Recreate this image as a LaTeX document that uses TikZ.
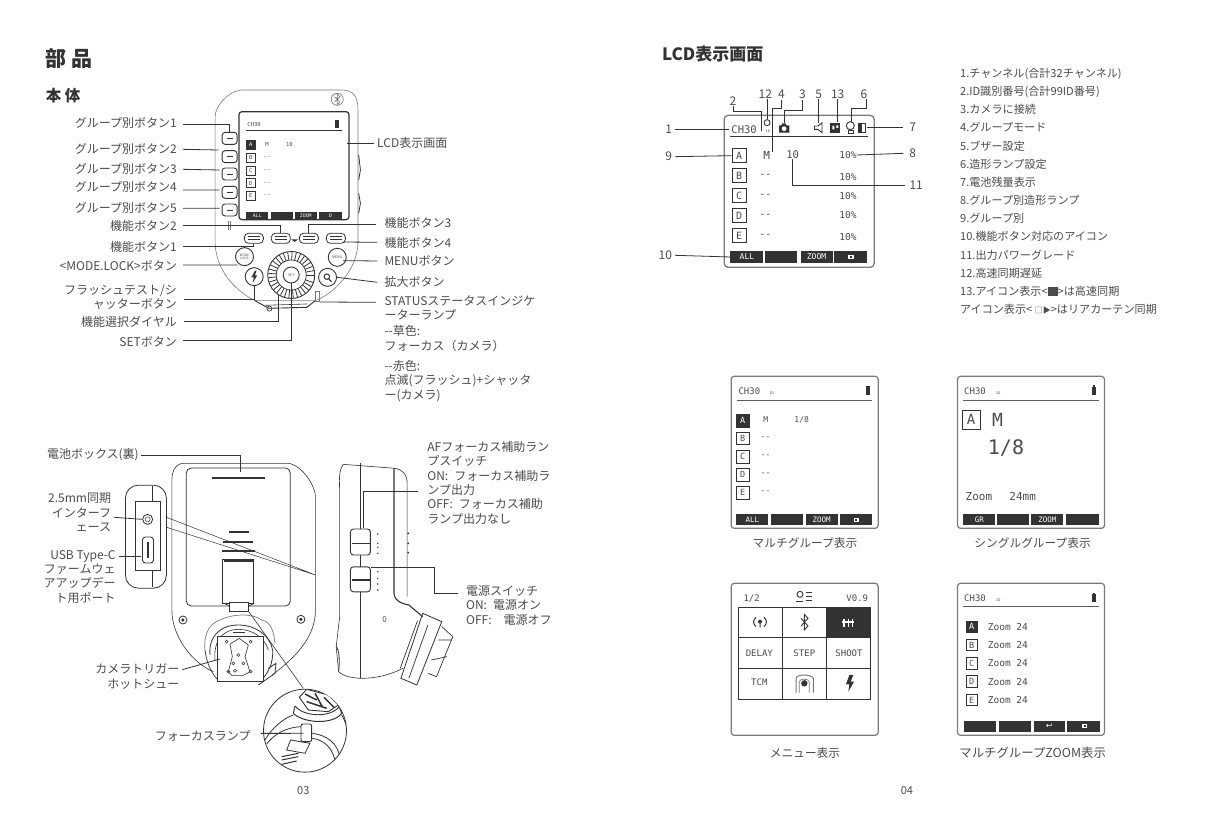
\documentclass[tikz,border=0pt]{standalone}
\usepackage{fontspec}
\setmainfont{Noto Sans CJK JP}
\setmonofont{DejaVu Sans Mono}
\newfontfamily\symf{DejaVu Sans}
\usetikzlibrary{calc}
\definecolor{txt}{HTML}{4C4C4C}
\definecolor{ink}{HTML}{333333}
\definecolor{pale}{HTML}{7A7A7A}
\newcommand\fsz[1]{\fontsize{#1}{#1}\selectfont}
\tikzset{
  lab/.style={font=\fontsize{12}{14.3}\selectfont,text=txt,inner sep=0pt},
  ldr/.style={draw=ink,line width=.8pt},
  thin line/.style={draw=pale,line width=.6pt},
  part/.style={draw=ink,line width=.8pt},
  scr/.style={draw=ink,line width=1.2pt,rounded corners=3pt,inner sep=0pt,fill=white},
  skey/.style={fill=ink,text=white,inner sep=0pt,font=\ttfamily\fsz{6.5}},
  gbox/.style={draw=ink,line width=.8pt,inner sep=0pt,text=txt,font=\ttfamily\fsz{7},minimum size=11.5pt},
  gon/.style={fill=ink,text=white},
  mono/.style={font=\ttfamily\fsz{7},text=txt,inner sep=0pt},
  lnum/.style={font=\fsz{12},text=txt,inner sep=0pt},
  capt/.style={font=\fsz{11.7},text=txt,inner sep=0pt},
  gbtn/.style={draw=ink,line width=.9pt,rounded corners=3pt,inner sep=0pt,minimum width=15pt,minimum height=12pt},
  fbtn/.style={draw=ink,line width=.8pt,rounded corners=4pt,inner sep=0pt,minimum width=19pt,minimum height=10pt},
  rbtn/.style={circle,draw=ink,line width=.9pt,inner sep=0pt,minimum size=18pt,text=txt},
}
\begin{document}
\begin{tikzpicture}[x=1pt,y=-1pt]
\useasboundingbox (0,0) rectangle (1209,831);
\fill[white] (0,0) rectangle (1209,831);
% ================= top-left panel
\begin{scope}[shift={(30,30)},x=.346pt,y=-.3333pt]
\node[font=\bfseries\fsz{21},text=ink,inner sep=0pt,anchor=west] (t1) at (45,85) {部 品};
\node[font=\bfseries\fsz{15.5},text=ink,inner sep=0pt,anchor=west] (t2) at (45,197) {本 体};
% body
\draw[thin line] (610,180) -- (900,180) .. controls (935,180) and (948,200) .. (948,240) -- (948,640) .. controls (945,720) and (880,790) .. (825,812) -- (650,812) .. controls (590,780) and (538,720) .. (535,640) -- (535,260) .. controls (535,230) and (570,185) .. (610,180) -- cycle;
\draw[part] (950,375) -- (955,420) -- (950,450) (950,490) -- (955,520) -- (950,550);
\node[circle,draw=pale,line width=.7pt,minimum size=12pt,inner sep=0pt] (bt) at (888,208) {};
\draw[pale,line width=.6pt] (880,200) -- (896,216) -- (888,224) -- (888,192) -- (896,200) -- (880,216);
% screen
\node[scr,minimum width=110pt,minimum height=108pt] (lcd) at (763,407) {};
\draw[ink,line width=1pt] (625,303) -- (903,303);
\node[mono,font=\ttfamily\fsz{5.5},anchor=west] (mch) at (628,285) {CH30};
\node[fill=ink,inner sep=0pt,minimum width=4.5pt,minimum height=8pt] (mbat) at (888,283) {};
\foreach \i/\t/\y in {a/A/345,b/B/383,c/C/422,d/D/460,e/E/498}{
  \node[gbox,font=\ttfamily\fsz{5.5},minimum size=9pt] (m\i) at (638,\y) {\t};}
\node[gbox,gon,font=\ttfamily\fsz{5.5},minimum size=9pt] at (638,345) {A};
\node[mono,font=\ttfamily\fsz{5.5}] (mm) at (685,343) {M};
\node[mono,font=\ttfamily\fsz{5.5}] (mn10) at (750,343) {10};
\foreach \y in {383,422,460,498}{\node[mono,font=\ttfamily\fsz{5.5}] at (685,\y) {--};}
\foreach \n/\c/\w/\t in {s1/657/22/ALL,s2/727/22/,s3/797/22/ZOOM,s4/869/23/D}{
  \node[skey,font=\ttfamily\fsz{4.8},minimum width=\w pt,minimum height=7.5pt] (m\n) at (\c,556) {\t};}
% group buttons
\foreach \i/\y in {1/325,2/380,3/432,4/487,5/540}{
  \node[gbtn] (b\i) at (577,\y) {};
  \draw[ink,line width=.9pt] ($(b\i)+(-3pt,0)$) -- ($(b\i)+(3pt,0)$);}
\draw[pale,line width=.7pt] (572,572) -- (572,600) (580,572) -- (580,600);
% function buttons
\foreach \i/\x in {1/647,2/725,3/806,4/884}{
  \node[fbtn] (fb\i) at (\x,625) {};
  \draw[ink,line width=.7pt] ($(fb\i)+(-6pt,-1.5pt)$) -- ($(fb\i)+(6pt,-1.5pt)$) ($(fb\i)+(-6pt,1.5pt)$) -- ($(fb\i)+(6pt,1.5pt)$);}
\fill[ink] (755,628) -- (775,628) -- (765,636) -- cycle;
% round buttons
\node[rbtn,font=\fontsize{3.2}{3.6}\selectfont,align=center] (mlb) at (620,680) {MODE\\LOCK};
\node[rbtn,font=\fsz{3.6}] (mb) at (888,682) {MENU};
\node[rbtn] (flb) at (648,740) {};
\fill[ink] (650,722) -- (640,742) -- (647,742) -- (644,758) -- (657,736) -- (650,736) -- (655,722) -- cycle;
\node[rbtn] (kb) at (860,742) {};
\node[circle,draw=ink,line width=1pt,minimum size=5.5pt,inner sep=0pt] (kc) at (858,740) {};
\draw[ink,line width=1.2pt] (864,747) -- (871,755);
% dial
\node[circle,draw=ink,line width=.9pt,minimum size=47pt,inner sep=0pt] (dial) at (755,735) {};
\node[circle,draw=ink,line width=.7pt,minimum size=30pt,inner sep=0pt] (dial2) at (755,735) {};
\foreach \a in {0,11,...,350}{\draw[ink,line width=.8pt] ($(dial)+(\a:15pt)$) -- ($(dial)+(\a:23pt)$);}
\node[circle,draw=ink,line width=.9pt,minimum size=16pt,inner sep=0pt,font=\fsz{3.5},text=txt] (set) at (755,735) {SET};
% bottom strip
\draw[ink,line width=.9pt] (650,812) -- (690,835) -- (800,832) -- (825,812);
\draw[ink,line width=.6pt] (680,826) -- (800,822);
\node[circle,draw=ink,line width=.7pt,minimum size=5pt,inner sep=0pt] (sb) at (692,836) {};
\node[draw=pale,line width=.7pt,minimum width=4.5pt,minimum height=10pt,inner sep=0pt] (lamp) at (831,800) {};
% left labels
\node[lab,anchor=east] (g1) at (425,278) {グループ別ボタン1};
\node[lab,anchor=east] (g2) at (425,358) {グループ別ボタン2};
\node[lab,anchor=east] (g3) at (425,418) {グループ別ボタン3};
\node[lab,anchor=east] (g4) at (425,472) {グループ別ボタン4};
\node[lab,anchor=east] (g5) at (425,533) {グループ別ボタン5};
\node[lab,anchor=east] (f2) at (425,587) {機能ボタン2};
\node[lab,anchor=east] (f1) at (425,650) {機能ボタン1};
\node[lab,anchor=east] (ml) at (425,708) {<MODE.LOCK>ボタン};
\node[lab,anchor=east,align=right] (fl) at (425,802) {フラッシュテスト/シ\\ャッターボタン};
\node[lab,anchor=east] (dl) at (425,875) {機能選択ダイヤル};
\node[lab,anchor=east] (se) at (425,937) {SETボタン};
\coordinate (g2e) at (545,360);
\coordinate (g3e) at (548,420);
\coordinate (g4e) at (548,480);
\coordinate (g5e) at (548,535);
\coordinate (mle) at (600,705);
\coordinate (dle) at (717,795);
\draw[ldr] ([xshift=6pt,yshift=-2pt]g1.east) -| (b1.north);
\draw[ldr] ([xshift=6pt]g2.east) -- (g2e);
\draw[ldr] ([xshift=6pt]g3.east) -- (g3e);
\draw[ldr] ([xshift=6pt,yshift=-2.6pt]g4.east) -- (g4e);
\draw[ldr] ([xshift=6pt,yshift=-.6pt]g5.east) -- (g5e);
\draw[ldr] ([xshift=6pt]f2.east) -| (fb2.north);
\draw[ldr] ([xshift=6pt]f1.east) -| (fb1.south);
\draw[ldr] ([xshift=6pt,yshift=1pt]ml.east) -- (mle);
\draw[ldr] ([xshift=7pt,yshift=-2pt]fl.east) -| (flb.south);
\draw[ldr] ([xshift=7pt]dl.east) -| (dle);
\draw[ldr] ([xshift=6pt,yshift=2.3pt]se.east) -| (set.south);
% right labels
\node[lab,anchor=west] (rl) at (1003,340) {LCD表示画面};
\node[lab,anchor=west] (f3) at (1024,580) {機能ボタン3};
\node[lab,anchor=west] (f4) at (1024,640) {機能ボタン4};
\node[lab,anchor=west] (mn) at (1024,693) {MENUボタン};
\node[lab,anchor=west] (kd) at (1024,757) {拡大ボタン};
\node[lab,anchor=north west,align=left] (st) at (1024,796) {STATUSステータスインジケ\\ーターランプ\\[2pt]-{}-草色:\\フォーカス（カメラ）\\[6pt]-{}-赤色:\\点滅(フラッシュ)+シャッタ\\ー(カメラ)};
\coordinate (lcdp) at (915,340);
\coordinate (f4e) at (905,636);
\coordinate (mne) at (905,692);
\coordinate (stL) at (1000,817);
\draw[ldr] ([xshift=-3pt]rl.west) -- (lcdp);
\draw[ldr] ([xshift=-8pt,yshift=-1.5pt]f3.west) -| (fb3.north);
\draw[ldr] ([xshift=-7pt,yshift=1pt]f4.west) -- (f4e);
\draw[ldr] ([xshift=-7pt]mn.west) -- (mne);
\draw[ldr] ([xshift=-7pt]kd.west) -- (kb.east);
\draw[ldr] (stL) -- (lamp.south east);
\end{scope}
% ================= bottom-left panel
\begin{scope}[shift={(30,430)},x=.346pt,y=-.3333pt]
% back body
\draw[thin line,draw=ink] (440,100) -- (750,100) .. controls (790,110) and (825,170) .. (825,200) -- (825,540) .. controls (825,620) and (770,680) .. (700,735);
\draw[thin line,draw=ink] (440,100) .. controls (415,105) and (410,130) .. (410,150) -- (410,540) .. controls (410,620) and (470,700) .. (530,725);
\node[draw=ink,line width=.8pt,rounded corners=5pt,minimum width=104pt,minimum height=138pt,inner sep=0pt] (door) at (602,321) {};
\draw[ink,line width=2pt] (525,143) -- (680,143);
\draw[ink,line width=2pt] (575,306) -- (632,306) (558,335) -- (645,335) (555,362) -- (650,362);
\node[draw=ink,line width=.8pt,minimum width=31pt,minimum height=44pt,inner sep=0pt,fill=white] (clip) at (602,455) {};
\draw[ink,line width=2pt] (560,392) -- (645,392);
\node[draw=ink,line width=.8pt,minimum width=19pt,minimum height=9pt,inner sep=0pt,fill=white] (tab) at (605,532) {};
\draw[ink,line width=.7pt] (560,520) -- (578,528) (648,520) -- (632,528);
\coordinate (dg) at (825,435);
\draw[ink,line width=.5pt] (395,262) -- (dg) (395,292) -- (dg);
% port panel
\node[draw=ink,line width=.8pt,rounded corners=13pt,minimum width=41pt,minimum height=103pt,inner sep=0pt,fill=white] (panel) at (335,320) {};
\node[draw=ink,line width=.9pt,minimum width=25pt,minimum height=69pt,inner sep=0pt] (port) at (342,318) {};
\draw[ink,line width=1pt] (355,168) -- (355,215) (355,422) -- (355,472);
\node[circle,draw=ink,line width=.8pt,minimum size=10pt,inner sep=0pt] (jack) at (340,268) {};
\node[circle,draw=ink,line width=.5pt,minimum size=5pt,inner sep=0pt] at (340,268) {};
\node[draw=ink,line width=.9pt,rounded corners=3pt,minimum width=11pt,minimum height=26pt,inner sep=0pt] (usb) at (341,360) {};
\draw[ink,line width=1.4pt] (341,335) -- (341,385);
\node[lab,anchor=east,align=right] (sy) at (235,247) {2.5mm同期\\インターフ\\ェース};
\node[lab,anchor=east,align=right] (us) at (248,440) {USB Type-C\\ファームウェ\\アアップデー\\ト用ポート};
\coordinate (usbe) at (322,378);
\draw[ldr] ([xshift=3pt,yshift=-5pt]sy.east) -- (jack.west);
\draw[ldr] ([xshift=3pt]us.east |- usbe) -- (usbe);
% battery label
\node[lab,anchor=east] (bb) at (315,75) {電池ボックス(裏)};
\coordinate (bbe) at (608,125);
\draw[ldr] ([xshift=2pt]bb.east) -| (bbe);
% screws
\foreach \n/\x/\y in {sc1/442/570,sc2/783/568}{
  \node[circle,draw=ink,line width=.8pt,minimum size=8pt,inner sep=0pt] (\n) at (\x,\y) {};
  \fill[ink] (\n) circle[radius=1.8pt];}
\node[lab,anchor=east,align=right] (hs) at (432,740) {カメラトリガー\\ホットシュー};
\node[lab,anchor=east] (fo) at (638,918) {フォーカスランプ};
\node[font=\fsz{11},text=txt,inner sep=0pt] (p3) at (790,1083) {03};
% side view
\draw[thin line,draw=ink] (905,103) -- (1055,115) .. controls (1080,120) and (1090,135) .. (1090,160) -- (1090,500);
\draw[thin line,draw=ink] (905,103) .. controls (895,120) and (893,135) .. (895,180) -- (895,560) -- (885,650) -- (892,725) .. controls (905,740) and (940,745) .. (958,745) .. controls (1000,745) and (1040,735) .. (1078,715);
\draw[ink,line width=1.1pt] (1052,115) -- (1052,490) .. controls (1052,510) and (1070,520) .. (1095,525) -- (1135,560);
\draw[ink,line width=1.5pt] (955,100) -- (955,297) (955,375) -- (955,410) (955,485) -- (955,745);
\draw[ink,line width=.8pt] (1135,550) -- (1190,575) -- (1118,765) -- (1072,745) -- cycle;
\draw[ink,line width=.7pt] (1120,572) -- (1070,715) (1150,585) -- (1095,745);
\draw[ink,line width=.7pt] (1190,590) -- (1222,620) -- (1175,740) -- (1150,730) (1160,690) -- (1205,680) (1180,630) -- (1220,630);
\draw[ink,line width=.8pt] (885,650) .. controls (895,660) and (895,700) .. (892,725);
\foreach \y in {310,340,368}{\fill[ink] (1093,\y) circle[radius=1pt];}
\node[font=\fsz{8},text=txt,inner sep=0pt] (h0) at (1025,570) {0};
\node[draw=ink,line width=.9pt,rounded corners=3pt,minimum width=20pt,minimum height=26pt,inner sep=0pt] (sw1) at (955,336) {};
\node[draw=ink,line width=.9pt,rounded corners=3pt,minimum width=20pt,minimum height=25pt,inner sep=0pt] (sw2) at (955,448) {};
\draw[ink,line width=1.6pt] (930,340) -- (985,340) (930,450) -- (985,450);
\foreach \y in {312,340,352,370,425,445,462,480}{\fill[ink] (1005,\y) circle[radius=.8pt];}
\node[lab,anchor=north west,align=left] (af) at (1148,34) {AFフォーカス補助ラン\\プスイッチ\\ON:\enspace フォーカス補助ラ\\ンプ出力\\OFF:\enspace フォーカス補助\\ランプ出力なし};
\node[lab,anchor=north west,align=left] (pw) at (1260,466) {電源スイッチ\\ON:\enspace 電源オン\\OFF:\enspace\enspace 電源オフ};
\coordinate (afL) at (1122,185);
\coordinate (afT) at (965,295);
\coordinate (pwL) at (1237,490);
\coordinate (pwT) at (985,413);
\draw[ldr] (afL) -| (afT);
\draw[ldr] (pwL) -- (1170,490) |- (pwT);
\end{scope}
% ================= hot shoe and lamp call-out
\begin{scope}[shift={(200,600)},x=.3333pt,y=-.3333pt]
\draw[pale,line width=.7pt] (15,150) .. controls (10,100) and (30,70) .. (60,60) .. controls (100,40) and (160,40) .. (185,60) .. controls (215,65) and (222,100) .. (225,130);
\draw[ink,line width=.8pt] (30,165) .. controls (25,110) and (60,75) .. (115,75) .. controls (165,75) and (210,105) .. (218,150) .. controls (220,190) and (205,220) .. (180,245);
\draw[ink,line width=.6pt] (45,180) .. controls (40,120) and (70,88) .. (115,88) .. controls (160,88) and (195,115) .. (205,150);
\draw[ink,line width=.7pt] (15,150) .. controls (20,190) and (35,225) .. (60,245);
\draw[ink,line width=.8pt] (175,255) -- (225,220) -- (228,190) -- (205,205);
\draw[ink,line width=1.6pt] (100,98) -- (135,98);
\node[draw=ink,line width=1pt,minimum width=46pt,minimum height=45pt,inner sep=0pt,fill=white] (shoe) at (121,177) {};
\draw[ink,line width=.6pt] (90,132) -- (118,115) -- (145,135) -- (135,170) -- (150,215) -- (130,226) -- (95,226) -- (85,215) -- (97,170) -- cycle;
\foreach \x/\y in {80/125,152/125,115/165,85/215,105/212,130/190,152/215,100/190}{\draw[ink,line width=.5pt] (\x,\y) circle[radius=1.5pt];}
\coordinate (calloutB) at (310,265);
\draw[ink,line width=.6pt] (tab.south east) -- (calloutB);
\node[circle,draw=ink,line width=.8pt,minimum size=83pt,inner sep=0pt,fill=white] (detail) at (315,392) {};
\begin{scope}
\clip (315,392) circle[radius=41.5pt];
\draw[ink,line width=.9pt,fill=white] (298,292) -- (320,268) -- (385,285) -- (415,315) -- (385,335) -- (325,330) -- cycle;
\draw[ink,line width=1.5pt] (315,282) -- (350,300) (345,280) -- (368,322) (372,292) -- (402,322) (320,305) -- (380,325);
\draw[ink,line width=.9pt] (285,318) .. controls (310,350) and (390,355) .. (418,320);
\draw[ink,line width=1pt] (280,340) .. controls (310,370) and (400,375) .. (425,340);
\draw[ink,line width=.9pt] (285,318) -- (280,340) (418,320) -- (425,340);
\draw[ink,line width=.8pt] (280,345) .. controls (250,355) and (215,385) .. (195,420);
\draw[ink,line width=.8pt] (200,432) .. controls (225,400) and (260,382) .. (303,380);
\draw[ink,line width=.8pt] (425,345) .. controls (440,370) and (445,395) .. (445,430);
\draw[ink,line width=.8pt] (337,400) .. controls (380,405) and (415,430) .. (420,475);
\draw[ink,line width=.8pt] (337,415) .. controls (370,420) and (395,440) .. (405,480);
\draw[ink,line width=.9pt,fill=white,rounded corners=2pt] (303,372) rectangle (335,425);
\draw[ink,line width=.8pt] (272,420) -- (330,430) -- (315,460) -- (260,450) -- cycle;
\draw[ink,line width=1pt] (245,470) -- (295,460) (245,480) -- (295,470) (245,493) -- (290,483);
\end{scope}
\coordinate (foe) at (310,400);
\end{scope}
\draw[ldr] ([xshift=3pt,yshift=7pt]hs.east) -- ([xshift=3pt]shoe.west);
\draw[ldr] ([xshift=10pt,yshift=2.6pt]fo.east) -- (foe);
% ================= top-right panel
\begin{scope}[shift={(650,30)},x=.3413pt,y=-.3333pt]
\node[font=\bfseries\fsz{17},text=ink,inner sep=0pt,anchor=west] (t3) at (35,72) {LCD表示画面};
\node[draw=pale,line width=1.3pt,rounded corners=4pt,minimum width=150pt,minimum height=152pt,inner sep=0pt] (big) at (437,484) {};
\draw[ink,line width=1.1pt] (235,320) -- (640,320);
\node[mono,font=\ttfamily\fsz{10.5},anchor=west] (bch) at (238,298) {CH30};
\node[mono,font=\ttfamily\fsz{3.5}] (bid) at (345,305) {ID};
\node[circle,draw=ink,line width=.9pt,minimum size=6pt,inner sep=0pt] (i12) at (343,278) {};
\fill[ink] (378,308) -- (408,308) -- (408,286) -- (400,286) -- (397,280) -- (388,280) -- (385,286) -- (378,286) -- cycle;
\fill[white] (393,296) circle[radius=2.4pt];
\coordinate (i3) at (393,279);
\draw[ink,line width=.9pt] (504,278) -- (492,288) -- (482,288) -- (482,298) -- (492,298) -- (504,308) -- cycle;
\coordinate (i5) at (494,280);
\fill[ink] (528,278) rectangle (558,308);
\fill[white] (534,288) rectangle (540,298) (546,286) rectangle (552,294);
\coordinate (i13) at (550,275);
\node[circle,draw=ink,line width=.9pt,minimum size=8pt,inner sep=0pt] (i6) at (587,287) {};
\draw[ink,line width=.9pt] (580,300) rectangle (595,309);
\draw[ink,line width=.9pt] (612,280) rectangle (632,308);
\fill[ink] (612,280) rectangle (621,308);
\foreach \i/\t/\y in {a/A/377,b/B/437,c/C/497,d/D/557,e/E/617}{
  \node[gbox,font=\ttfamily\fsz{10},minimum size=14pt] (bg\i) at (261,\y) {\t};}
\node[mono,font=\ttfamily\fsz{11}] (bm) at (342,375) {M};
\node[mono,font=\ttfamily\fsz{10.5}] (b10) at (418,375) {10};
\foreach \y in {437,497,557,617}{\node[mono,font=\ttfamily\fsz{10}] at (338,\y) {--};}
\foreach \i/\y in {a/375,b/440,c/498,d/555,e/620}{\node[mono,font=\ttfamily\fsz{9.5}] (bp\i) at (580,\y) {10\%};}
\foreach \n/\c/\w/\t in {1/284/33/ALL,2/385/32/,3/488/32/ZOOM,4/588/33/}{
  \node[skey,font=\ttfamily\fsz{8},minimum width=\w pt,minimum height=11.5pt] (bs\n) at (\c,681) {\t};}
\fill[white] (580,674) rectangle (597,688);
\fill[ink] (585,678) rectangle (592,684);
% numbers
\foreach \n/\t/\x/\y in {n1/1/55/297,n7/7/770/293,n9/9/55/380,n8/8/770/370,n11/11/780/465,n10/10/45/676,n2/2/243/213,n12/12/338/193,n4/4/385/193,n3/3/447/193,n5/5/494/193,n13/13/550/193,n6/6/627/193}{
  \node[lnum] (\n) at (\x,\y) {\t};}
\coordinate (e1) at (232,297);
\coordinate (e7) at (635,293);
\coordinate (e2a) at (243,245);
\coordinate (e2b) at (325,303);
\coordinate (e4a) at (358,235);
\coordinate (e4b) at (358,365);
\coordinate (e3a) at (393,240);
\coordinate (e6a) at (590,235);
\coordinate (e6b) at (590,275);
\draw[ldr] ([xshift=3pt]n1.east) -- (e1);
\draw[ldr] ([xshift=-6pt]n7.west) -- (e7);
\draw[ldr] ([xshift=3pt]n9.east) -- (bga.west);
\draw[ldr] ([xshift=-6pt]n8.west) -- (bpa.east);
\draw[ldr] ([xshift=-4pt]n11.west) -| (b10.south);
\draw[ldr] ([xshift=3pt]n10.east) -- (bs1.west);
\draw[ldr] (n2.south) -- (e2a) -| (e2b);
\draw[ldr] (n12.south -| i12) -- (i12.north);
\draw[ldr] ([yshift=-1pt]n4.south) |- (e4a) -- (e4b);
\draw[ldr] ([yshift=-1pt]n3.south) |- (e3a) -- (i3);
\draw[ldr] (n5.south) -- (i5);
\draw[ldr] (n13.south) -- (i13);
\draw[ldr] ([xshift=2pt]n6.south) |- (e6a) -- (e6b);
% list
\node[font=\fontsize{11.1}{18.15}\selectfont,text=txt,inner sep=0pt,anchor=north west,align=left] (lst) at (908,114) {1.チャンネル(合計32チャンネル)\\2.ID識別番号(合計99ID番号)\\3.カメラに接続\\4.グループモード\\5.ブザー設定\\6.造形ランプ設定\\7.電池残量表示\\8.グループ別造形ランプ\\9.グループ別\\10.機能ボタン対応のアイコン\\11.出力パワーグレード\\12.高速同期遅延\\13.アイコン表示<\rule[-1pt]{10pt}{9pt}>は高速同期\\アイコン表示< {\fsz{8}□▶}>はリアカーテン同期};
\end{scope}
% ================= bottom-right panel
\begin{scope}[shift={(720,370)},x=.3333pt,y=-.3333pt]
\node[scr,draw=pale,minimum width=147pt,minimum height=152pt] (s1) at (254,247) {};
\node[scr,draw=pale,minimum width=147pt,minimum height=152pt] (s2) at (933,247) {};
\node[scr,draw=pale,minimum width=147pt,minimum height=152pt] (s3) at (254,868) {};
\node[scr,draw=pale,minimum width=147pt,minimum height=152pt] (s4) at (933,868) {};
% s1
\node[mono,font=\ttfamily\fsz{9},anchor=west] (c1) at (55,65) {CH30};
\node[mono,font=\ttfamily\fsz{3.5}] at (155,70) {ID};
\draw[ink!80,line width=1pt] (50,90) -- (457,90);
\fill[ink] (437,48) rectangle (449,74);
\foreach \i/\t/\y in {a/A/152,b/B/205,c/C/260,d/D/314,e/E/368}{\node[gbox,font=\ttfamily\fsz{8.5},minimum size=12.5pt] (sa\i) at (68,\y) {\t};}
\node[gbox,gon,font=\ttfamily\fsz{8.5},minimum size=12.5pt] at (68,152) {A};
\node[mono,font=\ttfamily\fsz{8}] (m1) at (137,150) {M};
\node[mono,font=\ttfamily\fsz{8}] (o1) at (245,150) {1/8};
\foreach \y in {205,260,314,368}{\node[mono,font=\ttfamily\fsz{8}] at (137,\y) {--};}
\foreach \n/\c/\w/\t in {1/97/32/ALL,2/200/32/,3/305/32/ZOOM,4/409/32/}{
  \node[skey,font=\ttfamily\fsz{7.5},minimum width=\w pt,minimum height=10.5pt] (sk\n) at (\c,449) {\t};}
\fill[white] (402,444) rectangle (416,456);
\fill[ink] (406,447) rectangle (412,452);
\node[capt] (c1a) at (255,520) {マルチグループ表示};
% s2
\node[mono,font=\ttfamily\fsz{9},anchor=west] (c2) at (732,65) {CH30};
\node[mono,font=\ttfamily\fsz{3.5}] at (835,70) {ID};
\draw[ink!80,line width=1pt] (730,90) -- (1137,90);
\fill[ink] (1115,50) rectangle (1128,74);
\fill[ink] (1118,46) rectangle (1125,50);
\node[gbox,font=\ttfamily\fsz{14},minimum width=18pt,minimum height=19pt] (ab) at (753,149) {A};
\node[mono,font=\ttfamily\fsz{18}] (bigm) at (833,150) {M};
\node[mono,font=\ttfamily\fsz{20}] (big8) at (858,233) {1/8};
\node[mono,font=\ttfamily\fsz{11}] (zo) at (777,380) {Zoom};
\node[mono,font=\ttfamily\fsz{11}] (zm) at (908,378) {24mm};
\foreach \n/\c/\w/\t in {1/778/32/GR,2/880/32/,3/982/32/ZOOM,4/1088/33/}{
  \node[skey,font=\ttfamily\fsz{7.5},minimum width=\w pt,minimum height=10.5pt] (sl\n) at (\c,449) {\t};}
\node[capt] (c2a) at (938,520) {シングルグループ表示};
% s3 menu
\node[mono,font=\ttfamily\fsz{9}] (h1) at (95,685) {1/2};
\node[mono,font=\ttfamily\fsz{9}] (h3) at (412,685) {V0.9};
\node[circle,draw=ink,line width=.9pt,minimum size=6pt,inner sep=0pt] (hi) at (240,673) {};
\draw[ink,line width=1pt] (228,694) -- (250,694) (257,668) -- (277,668) (257,680) -- (277,680) (257,693) -- (277,693);
\fill[ink] (319,712) rectangle (452,802);
\draw[ink,line width=.9pt] (55,712) rectangle (452,987) (187,712) -- (187,987) (319,712) -- (319,987) (55,802) -- (452,802) (55,895) -- (452,895);
\node[mono,font=\ttfamily\fsz{9}] (d1) at (118,850) {DELAY};
\node[mono,font=\ttfamily\fsz{9}] (d2) at (253,850) {STEP};
\node[mono,font=\ttfamily\fsz{9}] (d3) at (387,850) {SHOOT};
\node[mono,font=\ttfamily\fsz{9}] (d4) at (118,938) {TCM};
\fill[ink] (120,755) circle[radius=2pt];
\draw[ink,line width=1pt] (108,742) .. controls (98,752) and (98,760) .. (108,770) (132,742) .. controls (142,752) and (142,760) .. (132,770) (120,755) -- (120,772);
\draw[ink,line width=.9pt] (243,745) -- (264,768) -- (253,780) -- (253,733) -- (264,745) -- (243,768);
\draw[white,line width=1.1pt] (372,748) -- (372,772) (385,748) -- (385,772) (398,748) -- (398,772) (367,756) -- (403,756);
\draw[pale,line width=1pt] (228,968) -- (228,925) .. controls (230,912) and (274,912) .. (280,925) -- (280,968);
\draw[pale,line width=.7pt] (238,968) -- (238,935) .. controls (240,925) and (265,925) .. (268,935) -- (268,968);
\fill[ink] (253,940) circle[radius=3.2pt];
\fill[ink] (388,915) -- (378,943) -- (388,943) -- (385,965) -- (402,935) -- (392,935) -- (400,915) -- cycle;
\node[capt] (c3a) at (255,1148) {メニュー表示};
% s4
\node[mono,font=\ttfamily\fsz{9},anchor=west] (c4) at (732,685) {CH30};
\node[mono,font=\ttfamily\fsz{3.5}] at (835,690) {ID};
\draw[ink!80,line width=1pt] (730,711) -- (1137,711);
\fill[ink] (1115,672) rectangle (1128,695);
\fill[ink] (1118,668) rectangle (1125,672);
\foreach \i/\t/\y in {a/A/770,b/B/825,c/C/880,d/D/935,e/E/990}{
  \node[gbox,font=\ttfamily\fsz{8.5},minimum size=11.5pt] (st\i) at (755,\y) {\t};
  \node[mono,font=\ttfamily\fsz{9.5},anchor=west] (zz\i) at (803,\y) {Zoom 24};}
\node[gbox,gon,font=\ttfamily\fsz{8.5},minimum size=11.5pt] at (755,770) {A};
\foreach \n/\c/\w/\t in {1/781/32/,2/885/32/,3/988/31/,4/1090/33/}{
  \node[skey,minimum width=\w pt,minimum height=10.5pt] (sm\n) at (\c,1069) {\t};}
\node[text=white,font=\symf\fsz{8},inner sep=0pt] at (988,1069) {↩};
\fill[white] (1087,1063) rectangle (1101,1075);
\fill[ink] (1091,1066) rectangle (1097,1071);
\node[capt,font=\fsz{12.4}] (c4a) at (938,1148) {マルチグループZOOM表示};
\node[font=\fsz{11},text=txt,inner sep=0pt] (p4) at (561,1263) {04};
\end{scope}
\end{tikzpicture}
\end{document}
